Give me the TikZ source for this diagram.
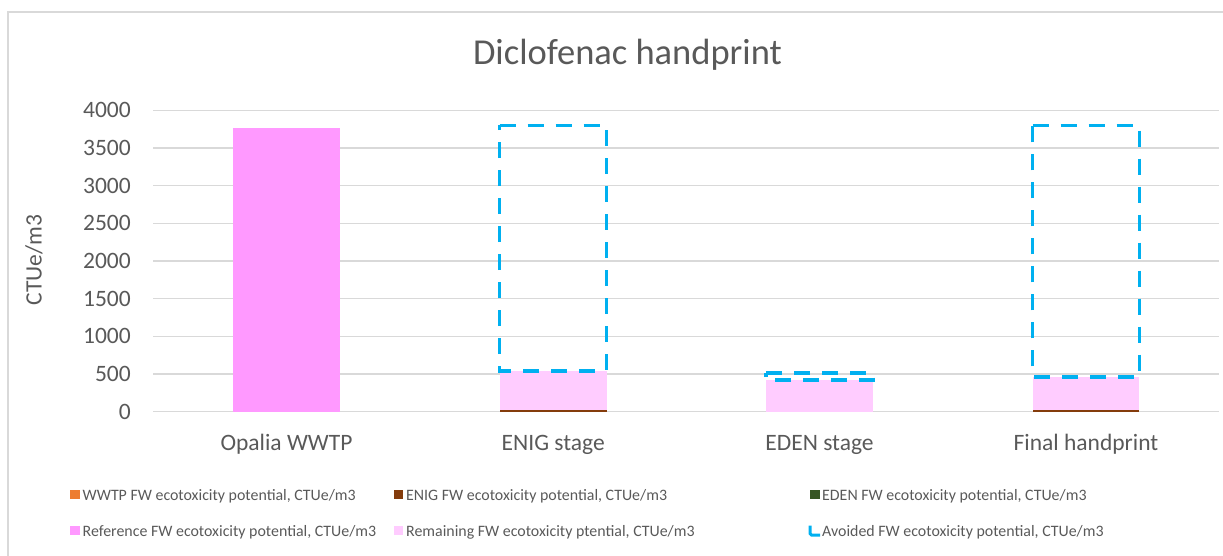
\documentclass[tikz,border=0pt]{standalone}
\usepackage{fontspec}
\setmainfont{Carlito}
\definecolor{txt}{HTML}{595959}
\definecolor{gridc}{HTML}{D9D9D9}
\definecolor{refpink}{HTML}{FF99FF}
\definecolor{rempink}{HTML}{FFCCFF}
\definecolor{enigbrown}{HTML}{843C0C}
\definecolor{wwtporange}{HTML}{ED7D31}
\definecolor{edengreen}{HTML}{375623}
\definecolor{avoidblue}{HTML}{00B0F0}
\begin{document}
\begin{tikzpicture}[x=1pt,y=-1pt,
  gridline/.style={draw=gridc,line width=1.3pt},
  ticklabel/.style={anchor=base east,inner sep=0pt,text=txt,font=\fontsize{23.5}{24}\selectfont},
  catlabel/.style={anchor=base,inner sep=0pt,text=txt,font=\fontsize{23.5}{24}\selectfont},
  legtext/.style={anchor=base west,inner sep=0pt,text=txt,font=\fontsize{15.9}{16}\selectfont},
  avoided/.style={draw=avoidblue,line width=3.6pt,dash pattern=on 16pt off 12pt},
  legbox/.style={minimum size=9.5pt,inner sep=0pt,anchor=north west}]
\useasboundingbox (0,0) rectangle (1223,556);
\clip (0,0) rectangle (1223,556);
% chart area frame
\draw[gridc,line width=1.5pt] (8,12) rectangle (1260,600);
% title and axis title
\node[anchor=base,inner sep=0pt,text=txt,font=\fontsize{36.5}{37}\selectfont] (title) at (627.5,65) {Diclofenac handprint};
\node[rotate=90,inner sep=0pt,text=txt,font=\fontsize{23.5}{24}\selectfont] (ylabel) at (34,260) {CTUe/m3};
% value axis: one unit = 0.07535 px upwards, zero at y = 411.7
\begin{scope}[shift={(0,411.7)},y=0.07535pt]
  \foreach \v in {0,500,...,4000}{
    \draw[gridline] (153,\v) -- (1219,\v);
    \node[ticklabel] (tick\v) at (131,\v-98) {\v};
  }
  % Opalia WWTP
  \fill[refpink] (233,0) rectangle (340,3765);
  % ENIG stage
  \fill[rempink] (500,0) rectangle (606.5,544);
  \fill[enigbrown] (500,0) rectangle (606.5,26);
  \draw[avoided] (499.5,3800) -- (606.5,3800) -- (606.5,544) -- (499.5,544) -- cycle;
  % EDEN stage
  \fill[rempink] (766,0) rectangle (873,421);
  \draw[avoided] (766,517) -- (873,517) -- (873,421) -- (766,421) -- cycle;
  % Final handprint
  \fill[rempink] (1032.5,0) rectangle (1139.3,460);
  \fill[enigbrown] (1032.5,0) rectangle (1139.3,26);
  \draw[avoided] (1032.5,3800) -- (1139.3,3800) -- (1139.3,460) -- (1032.5,460) -- cycle;
\end{scope}
% category labels
\node[catlabel] (c1) at (286.5,450) {Opalia WWTP};
\node[catlabel] (c2) at (553.2,450) {ENIG stage};
\node[catlabel] (c3) at (819.5,450) {EDEN stage};
\node[catlabel] (c4) at (1086,450) {Final handprint};
% legend
\node[legbox,fill=wwtporange] (k1) at (70,489.5) {};
\node[legtext] (l1) at (82.5,500) {WWTP FW ecotoxicity potential, CTUe/m3};
\node[legbox,fill=enigbrown] (k2) at (393.5,489.5) {};
\node[legtext] (l2) at (406,500) {ENIG FW ecotoxicity potential, CTUe/m3};
\node[legbox,fill=edengreen] (k3) at (810,489.5) {};
\node[legtext] (l3) at (822,500) {EDEN FW ecotoxicity potential, CTUe/m3};
\node[legbox,fill=refpink] (k4) at (70,525.5) {};
\node[legtext] (l4) at (82.5,536.5) {Reference FW ecotoxicity potential, CTUe/m3};
\node[legbox,fill=rempink] (k5) at (393.5,525.5) {};
\node[legtext] (l5) at (406,536.5) {Remaining FW ecotoxicity ptential, CTUe/m3};
\coordinate (k6) at (810,525.5);
\draw[avoidblue,line width=3pt,rounded corners=1.5pt] (k6) -- ++(0,9.5) -- ++(10,0);
\node[legtext] (l6) at (822,536.5) {Avoided FW ecotoxicity potential, CTUe/m3};
\end{tikzpicture}
\end{document}
